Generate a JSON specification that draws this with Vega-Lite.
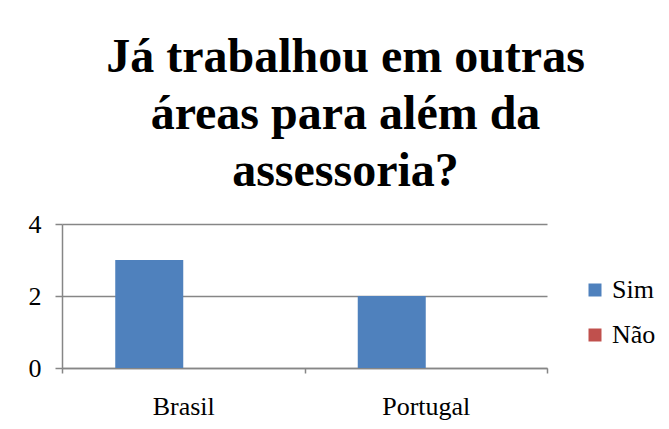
{
  "$schema": "https://vega.github.io/schema/vega-lite/v6.json",
  "width": 485,
  "height": 144,
  "autosize": {"type": "none"},
  "padding": {"left": 62, "top": 224, "right": 122, "bottom": 61},
  "background": "white",
  "title": {
    "text": ["Já trabalhou em outras", "áreas para além da", "assessoria?"],
    "font": "Liberation Serif",
    "fontSize": 48,
    "fontWeight": "bold",
    "color": "black",
    "lineHeight": 57,
    "anchor": "middle",
    "dx": 41,
    "offset": 15
  },
  "data": {
    "values": [
      {"pais": "Brasil", "resposta": "Sim", "valor": 3},
      {"pais": "Brasil", "resposta": "Não", "valor": 0},
      {"pais": "Portugal", "resposta": "Sim", "valor": 2},
      {"pais": "Portugal", "resposta": "Não", "valor": 0}
    ]
  },
  "mark": {"type": "bar"},
  "encoding": {
    "x": {
      "field": "pais",
      "type": "nominal",
      "sort": ["Brasil", "Portugal"],
      "scale": {"paddingInner": 0, "paddingOuter": 0},
      "axis": {
        "title": null,
        "labelAngle": 0,
        "labelFont": "Liberation Serif",
        "labelFontSize": 26,
        "labelColor": "black",
        "labelPadding": 20,
        "tickBand": "extent",
        "tickSize": 5,
        "tickColor": "#868686",
        "domainColor": "#868686",
        "domainWidth": 1.5,
        "tickWidth": 1.5
      }
    },
    "xOffset": {
      "field": "resposta",
      "type": "nominal",
      "sort": ["Sim", "Não"],
      "scale": {"paddingInner": 0, "paddingOuter": 0.783}
    },
    "y": {
      "field": "valor",
      "type": "quantitative",
      "scale": {"domain": [0, 4]},
      "axis": {
        "title": null,
        "values": [0, 2, 4],
        "labelFont": "Liberation Serif",
        "labelFontSize": 26,
        "labelColor": "black",
        "labelPadding": 14,
        "tickSize": 7,
        "tickColor": "#868686",
        "domainColor": "#868686",
        "gridColor": "#868686",
        "gridWidth": 1.5,
        "domainWidth": 1.5,
        "tickWidth": 1.5,
        "grid": true
      }
    },
    "color": {
      "field": "resposta",
      "type": "nominal",
      "sort": ["Sim", "Não"],
      "scale": {"domain": ["Sim", "Não"], "range": ["#4F81BD", "#C0504D"]},
      "legend": {
        "title": null,
        "orient": "none",
        "legendX": 520,
        "legendY": 53,
        "padding": 0,
        "symbolType": "square",
        "symbolSize": 169,
        "symbolStrokeWidth": 0,
        "labelFont": "Liberation Serif",
        "labelFontSize": 26,
        "labelColor": "black",
        "labelOffset": 4,
        "labelLimit": 200,
        "rowPadding": 19
      }
    }
  },
  "config": {
    "view": {"stroke": null},
    "axis": {"gridCap": "butt"},
    "legend": {
      "labelFont": "Liberation Serif",
      "labelFontSize": 26,
      "labelColor": "black"
    }
  }
}
